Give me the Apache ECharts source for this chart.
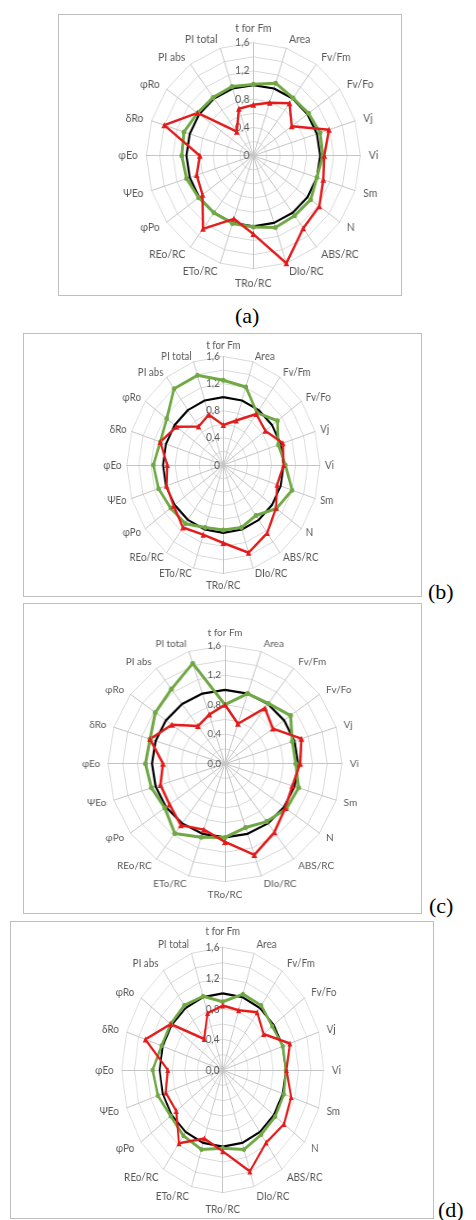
<!DOCTYPE html>
<html><head><meta charset="utf-8">
<script src="https://cdn.jsdelivr.net/npm/echarts@6/dist/echarts.min.js"></script>
<style>
html,body{margin:0;padding:0;background:#fff;width:476px;height:1220px;overflow:hidden;}
body{position:relative;}
.box{position:absolute;border:1px solid #bfbfbf;box-sizing:border-box;}
.chart{position:absolute;}
.lab{position:absolute;font-family:"Liberation Serif","Times New Roman",serif;font-size:22px;color:#000;line-height:22px;white-space:nowrap;}
</style></head><body>
<div class="box" style="left:58px;top:14px;width:344px;height:282px"></div>
<div class="box" style="left:23px;top:333px;width:399px;height:264px"></div>
<div class="box" style="left:23px;top:603px;width:399px;height:311px"></div>
<div class="box" style="left:10px;top:921px;width:424px;height:298px"></div>
<div id="ca" class="chart"></div>
<div id="cb" class="chart"></div>
<div id="cc" class="chart"></div>
<div id="cd" class="chart"></div>
<div class="lab" style="left:235px;top:305px">(a)</div>
<div class="lab" style="left:428px;top:581px">(b)</div>
<div class="lab" style="left:429px;top:895px">(c)</div>
<div class="lab" style="left:438px;top:1199px">(d)</div>
<script>
// ---- data ----
const indicators = ['t for Fm','Area','Fv/Fm','Fv/Fo','Vj','Vi','Sm','N','ABS/RC','DIo/RC','TRo/RC','ETo/RC','REo/RC','φPo','ΨEo','φEo','δRo','φRo','PI abs','PI total'];
const tickValues = [0, 0.4, 0.8, 1.2, 1.6];
const tickLabelsAB = ['0', '0,4', '0,8', '1,2', '1,6'];
const tickLabelsCD = ['0,0', '0,4', '0,8', '1,2', '1,6'];

const control = [1,1,1,1,1,1,1,1,1,1,1,1,1,1,1,1,1,1,1,1];

const greenA = [1.01,1.08,1.01,1.02,1.05,1.04,1.00,1.06,1.05,1.07,1.01,1.01,1.00,1.01,1.05,1.07,1.09,1.03,1.02,1.03];
const redA   = [0.72,0.79,0.92,0.71,1.19,1.06,1.10,1.22,1.27,1.60,1.11,0.94,1.28,0.94,0.89,0.80,1.40,1.03,0.42,0.70];

const greenB = [1.25,1.21,0.95,1.11,0.96,1.03,1.20,1.09,0.92,0.97,0.96,0.97,1.07,1.08,1.13,1.16,1.10,1.16,1.39,1.39];
const redB   = [0.59,0.69,0.93,0.86,1.04,1.00,0.94,1.08,1.24,1.36,1.15,1.08,1.14,1.02,0.99,0.93,1.10,0.96,0.70,0.78];

const greenC = [0.80,1.00,1.01,1.11,0.97,0.97,1.06,1.04,0.97,0.91,1.00,1.05,1.17,1.02,1.06,1.09,1.08,1.18,1.25,1.43];
const redC   = [0.80,0.57,0.93,0.81,1.10,1.03,0.97,1.02,1.15,1.30,1.06,0.94,1.03,0.94,0.93,0.85,1.08,0.90,0.63,0.70];

const greenD = [0.89,1.04,1.04,0.97,1.00,1.00,1.02,1.03,1.04,1.09,1.02,1.09,1.06,1.02,1.08,1.11,1.02,1.02,1.04,1.01];
const redD   = [0.84,0.82,0.93,0.80,1.12,1.01,1.14,1.20,1.17,1.39,1.06,0.94,1.18,0.91,0.95,0.87,1.29,1.02,0.50,0.78];

// ---- styling ----
const GREEN = '#70a845';
const RED = '#e31b1b';
const FONT = 'Lato, "Open Sans", sans-serif';

// ECharts places radar indicators counter-clockwise; reorder so they run clockwise
function cw(arr){ return [arr[0]].concat(arr.slice(1).reverse()); }

function makePanel(id, p, green, red, tickLabels){
  const el = document.getElementById(id);
  el.style.left = p.left + 'px';
  el.style.top = p.top + 'px';
  el.style.width = p.w + 'px';
  el.style.height = p.h + 'px';
  el.style.transformOrigin = p.cx + 'px ' + p.cy + 'px';
  el.style.transform = 'scaleX(' + p.sx + ')';
  const chart = echarts.init(el, null, {renderer:'canvas'});
  const names = cw(indicators);
  chart.setOption({
    animation:false,
    radar:{
      center:[p.cx, p.cy],
      radius:p.r,
      startAngle:90,
      shape:'polygon',
      splitNumber:8,
      nameGap:p.gap,
      indicator:names.map((n,k)=>{
        const o = {name:n, min:0, max:1.6};
        if(k===0){ o.axisLabel = {show:true}; }
        return o;
      }),
      axisName:{color:'#595959', fontFamily:FONT, fontSize:p.fs},
      splitLine:{lineStyle:{color:'#d9d9d9', width:1}},
      splitArea:{show:false},
      axisLine:{lineStyle:{color:'#c4c4c4', width:1}},
      axisTick:{show:false},
      axisLabel:{show:false, color:'#595959', fontFamily:FONT, fontSize:p.fs, margin:4,
        formatter:function(v){
          for(let i=0;i<tickValues.length;i++){
            if(Math.abs(v - tickValues[i]) < 1e-6) return tickLabels[i];
          }
          return '';
        }}
    },
    series:[{
      type:'radar',
      silent:true,
      data:[
        {value:cw(control), name:'control', symbol:'none',
          lineStyle:{color:'#000', width:2.2}, itemStyle:{color:'#000'}},
        {value:cw(green), name:'green', symbol:'circle', symbolSize:5,
          lineStyle:{color:GREEN, width:3}, itemStyle:{color:GREEN}},
        {value:cw(red), name:'red', symbol:'triangle', symbolSize:6,
          lineStyle:{color:RED, width:2.5}, itemStyle:{color:RED}}
      ]
    }]
  });
}

makePanel('ca', {left:58, top:14, w:344, h:282, cx:195.3, cy:141.7, r:113, sx:0.947, gap:9, fs:11}, greenA, redA, tickLabelsAB);
makePanel('cb', {left:23, top:333, w:399, h:264, cx:200.3, cy:132, r:108.5, sx:0.889, gap:6, fs:11}, greenB, redB, tickLabelsAB);
makePanel('cc', {left:23, top:603, w:399, h:311, cx:202, cy:160.7, r:118, sx:0.99, gap:8, fs:10}, greenC, redC, tickLabelsCD);
makePanel('cd', {left:10, top:921, w:424, h:298, cx:212.7, cy:149, r:122.7, sx:0.823, gap:10, fs:12}, greenD, redD, tickLabelsCD);
</script>
</body></html>
